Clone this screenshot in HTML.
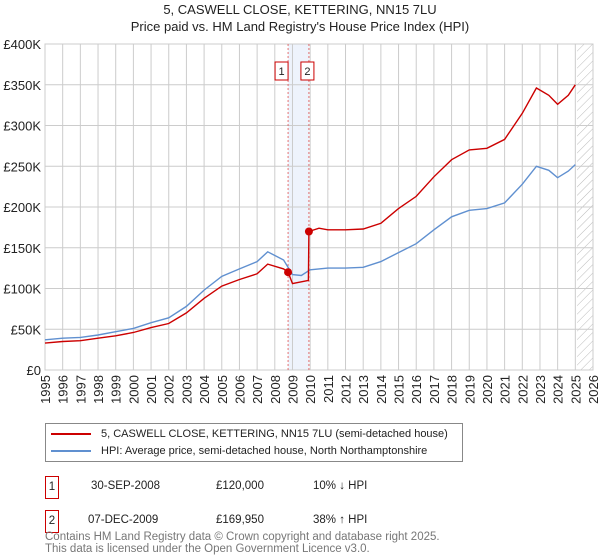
<!DOCTYPE html>
<html><head><meta charset="utf-8"><style>
body{margin:0;background:#fff;font-family:"Liberation Sans","DejaVu Sans",sans-serif;}
#wrap{position:relative;width:600px;height:560px;overflow:hidden;}
</style></head><body>
<div id="wrap">
<svg id="chart" width="600" height="560" style="position:absolute;left:0;top:0" font-family="Liberation Sans, DejaVu Sans, sans-serif">
<defs><pattern id="hatch" width="6" height="6" patternUnits="userSpaceOnUse" patternTransform="rotate(45)"><line x1="0" y1="0" x2="0" y2="6" stroke="#bbb" stroke-width="1"/></pattern></defs>
<text x="300" y="14" text-anchor="middle" font-size="13" fill="#222">5, CASWELL CLOSE, KETTERING, NN15 7LU</text>
<text x="300" y="31" text-anchor="middle" font-size="13" fill="#222">Price paid vs. HM Land Registry's House Price Index (HPI)</text>
<g id="grid"></g><g id="marks"></g><g id="axes"></g>
</svg>
<div style="position:absolute;left:45px;top:423px;width:416px;height:37px;border:1px solid #888;font-size:11px;color:#222">
 <div style="position:absolute;left:5px;top:4px;white-space:nowrap"><span style="display:inline-block;width:40px;height:2px;background:#cc0000;vertical-align:middle;margin-right:10px"></span>5, CASWELL CLOSE, KETTERING, NN15 7LU (semi-detached house)</div>
 <div style="position:absolute;left:5px;top:21px;white-space:nowrap"><span style="display:inline-block;width:40px;height:2px;background:#6090d0;vertical-align:middle;margin-right:10px"></span>HPI: Average price, semi-detached house, North Northamptonshire</div>
</div>
<div style="position:absolute;left:0;top:476px;width:600px;font-size:11.5px;color:#222">
 <div style="position:absolute;left:45px;top:0;width:12px;height:21px;border:1px solid #cc0000;text-align:center;line-height:21px">1</div>
 <div style="position:absolute;left:91px;top:4px">30-SEP-2008</div>
 <div style="position:absolute;left:216px;top:4px">£120,000</div>
 <div style="position:absolute;left:313px;top:4px">10% ↓ HPI</div>
 <div style="position:absolute;left:45px;top:34px;width:12px;height:21px;border:1px solid #cc0000;text-align:center;line-height:21px">2</div>
 <div style="position:absolute;left:88px;top:38px">07-DEC-2009</div>
 <div style="position:absolute;left:216px;top:38px">£169,950</div>
 <div style="position:absolute;left:313px;top:38px">38% ↑ HPI</div>
</div>
<div style="position:absolute;left:45px;top:531px;font-size:11.5px;color:#777;line-height:12px">Contains HM Land Registry data © Crown copyright and database right 2025.<br>This data is licensed under the Open Government Licence v3.0.</div>
</div>
<script>
const hpiYears=[1995,1996,1997,1998,1999,2000,2001,2002,2003,2004,2005,2006,2007,2007.6,2008.5,2009,2009.5,2010,2011,2012,2013,2014,2015,2016,2017,2018,2019,2020,2021,2022,2022.8,2023.5,2024,2024.6,2025];
const hpiValues=[37000,39000,40000,43000,47000,51000,58000,64000,78000,98000,115000,124000,133000,145000,135000,117000,116000,123000,125000,125000,126000,133000,144000,155000,172000,188000,196000,198000,205000,228000,250000,245000,236000,244000,252000];
const priceYears=[1995,1996,1997,1998,1999,2000,2001,2002,2003,2004,2005,2006,2007,2007.6,2008.5,2008.75,2009,2009.9,2009.93,2010.5,2011,2012,2013,2014,2015,2016,2017,2018,2019,2020,2021,2022,2022.8,2023.5,2024,2024.6,2025];
const priceValues=[33000,35000,36000,39000,42000,46000,52000,57000,70000,88000,103000,111000,118000,130000,124000,120000,106000,110000,170000,174000,172000,172000,173000,180000,198000,213000,237000,258000,270000,272000,283000,315000,346000,337000,326000,337000,350000];
const saleYears=[2008.75,2009.93];
const salePrices=[120000,169950];
const saleLabels=["1","2"];
const yTicks=[0,50000,100000,150000,200000,250000,300000,350000,400000];
const yTickLabels=["£0","£50K","£100K","£150K","£200K","£250K","£300K","£350K","£400K"];
const xTicks=[1995,1996,1997,1998,1999,2000,2001,2002,2003,2004,2005,2006,2007,2008,2009,2010,2011,2012,2013,2014,2015,2016,2017,2018,2019,2020,2021,2022,2023,2024,2025,2026];

const X0=45,X1=593,Y0=370,Y1=44;
const xs=y=>X0+(y-1995)/(2026-1995)*(X1-X0);
const ys=v=>Y0-v/400000*(Y0-Y1);
const NS="http://www.w3.org/2000/svg";
function mk(tag,attrs,parent){const e=document.createElementNS(NS,tag);for(const k in attrs)e.setAttribute(k,attrs[k]);parent.appendChild(e);return e;}
const grid=document.getElementById('grid'),marks=document.getElementById('marks'),axes=document.getElementById('axes');
let band=mk('rect',{x:xs(saleYears[0]),y:Y1,width:xs(saleYears[1])-xs(saleYears[0]),height:Y0-Y1,fill:'#eef3fc'},grid);


let hatch=mk('rect',{x:xs(2025.1),y:Y1,width:X1-xs(2025.1),height:Y0-Y1,fill:'url(#hatch)'},grid);


yTicks.forEach((t,i)=>{
 let l=mk('line',{x1:X0,x2:X1,y1:ys(t),y2:ys(t),stroke:'#ccc'},grid);
 
 
 let tx=mk('text',{x:X0-4,y:ys(t)+5,'text-anchor':'end','font-size':'13',fill:'#222'},axes);
 tx.textContent=yTickLabels[i];
 
 
});
xTicks.forEach(t=>{
 let l=mk('line',{x1:xs(t),x2:xs(t),y1:Y1,y2:Y0,stroke:'#ccc'},grid);
 
 
 let tx=mk('text',{x:0,y:0,'text-anchor':'end','font-size':'13',fill:'#222',transform:`translate(${xs(t)+5},${Y0+5}) rotate(-90)`},axes);
 tx.textContent=t;
 
 
});
let frame=mk('rect',{x:X0,y:Y1,width:X1-X0,height:Y0-Y1,fill:'none',stroke:'#ccc'},grid);


saleYears.forEach((s,i)=>{
 let l=mk('line',{x1:xs(s),x2:xs(s),y1:Y1,y2:Y0,stroke:'#e05050','stroke-dasharray':'2,2','stroke-width':'0.8'},marks);
 
 
 let b=mk('rect',{x:xs(s)-13,y:62,width:13,height:18,fill:'#fff',stroke:'#cc0000'},marks);
 
 
 let t=mk('text',{x:xs(s)-6.5,y:75,'text-anchor':'middle','font-size':'11',fill:'#222'},marks);
 t.textContent=saleLabels[i];
 
 
});
const badges=marks.querySelectorAll('rect');
badges[1].setAttribute('x',xs(saleYears[1])-8);
marks.querySelectorAll('text')[1].setAttribute('x',xs(saleYears[1])-1.5);
function line(xa,va,color,name){
 let d=xa.map((x,i)=>(i?'L':'M')+xs(x).toFixed(1)+','+ys(va[i]).toFixed(1)).join('');
 let p=mk('path',{d:d,fill:'none',stroke:color,'stroke-width':'1.4'},marks);
 
 
}
line(hpiYears,hpiValues,'#6090d0','hpi-line');
line(priceYears,priceValues,'#cc0000','price-line');
saleYears.forEach((s,i)=>{
 let c=mk('circle',{cx:xs(s),cy:ys(salePrices[i]),r:4,fill:'#cc0000'},marks);
 
 
});
</script>
</body></html>
